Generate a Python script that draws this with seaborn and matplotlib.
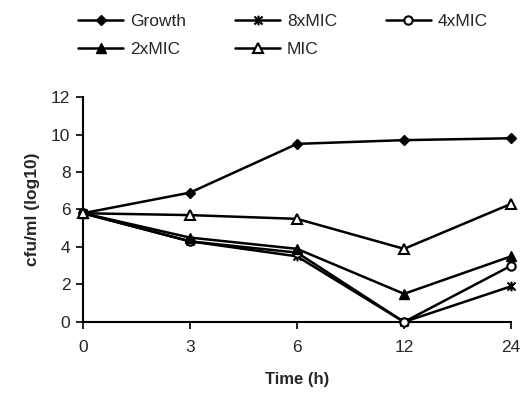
import numpy as np
import pandas as pd
import matplotlib
matplotlib.use('Agg')
import matplotlib.pyplot as plt
from matplotlib.path import Path
import seaborn as sns

sns.set_style("white")
plt.rcParams['font.family'] = ['Liberation Sans', 'DejaVu Sans']

# データ
times = ["0", "3", "6", "12", "24"]
growth = [5.8, 6.9, 9.5, 9.7, 9.8]
mic8 = [5.8, 4.3, 3.5, 0.0, 1.9]
mic4 = [5.8, 4.3, 3.7, 0.0, 3.0]
mic2 = [5.8, 4.5, 3.9, 1.5, 3.5]
mic1 = [5.8, 5.7, 5.5, 3.9, 6.3]

series = {"Growth": growth, "8xMIC": mic8, "4xMIC": mic4, "2xMIC": mic2, "MIC": mic1}

rows = []
for name, vals in series.items():
    for t, v in zip(times, vals):
        rows.append({"name": name, "time": t, "value": v})
df = pd.DataFrame(rows)
df["pos"] = df["time"].map({t: i for i, t in enumerate(times)})

# アスタリスク型マーカー
star = Path([(-1, -1), (1, 1), (-1, 1), (1, -1), (0, -1.2), (0, 1.2)],
            [Path.MOVETO, Path.LINETO, Path.MOVETO, Path.LINETO, Path.MOVETO, Path.LINETO])

styles = {
    "Growth": dict(marker="D", ms=5.5, mfc="k"),
    "8xMIC": dict(marker=star, ms=7, mfc="none", mew=1.5),
    "4xMIC": dict(marker="o", ms=6, mfc="white", mew=1.5),
    "2xMIC": dict(marker="^", ms=7, mfc="k"),
    "MIC": dict(marker="^", ms=7, mfc="white", mew=1.5),
}

fig = plt.figure(figsize=(5.22, 3.96), dpi=100)
ax = fig.add_axes([0.159, 0.187, 0.82, 0.568])

handles = {}
for name in series:
    sub = df[df["name"] == name]
    st = styles[name]
    sns.lineplot(data=sub, x="pos", y="value", ax=ax, color="k", lw=1.8,
                 marker=st["marker"], markersize=st["ms"], markerfacecolor=st["mfc"],
                 markeredgecolor="k", markeredgewidth=st.get("mew", 1), label=name,
                 clip_on=False, zorder=3)
    handles[name] = ax.get_lines()[-1]

ax.get_legend().remove()
ax.set_xlim(0, 4)
ax.set_ylim(0, 12)
ax.set_xticks(range(len(times)))
ax.set_xticklabels(times)
ax.set_yticks(np.arange(0, 13, 2))
ax.tick_params(axis="both", direction="out", length=5, width=1.2, color="k",
               labelsize=12.5, bottom=True, left=True, pad=4)
ax.tick_params(axis="x", pad=8)
for s in ["top", "right"]:
    ax.spines[s].set_visible(False)
for s in ["left", "bottom"]:
    ax.spines[s].set_color("k")
    ax.spines[s].set_linewidth(1.5)
ax.set_xlabel("Time (h)", fontsize=12, fontweight="bold", labelpad=12)
ax.set_ylabel("cfu/ml (log10)", fontsize=12.5, fontweight="bold", labelpad=8)

order = ["Growth", "2xMIC", "8xMIC", "MIC", "4xMIC"]
fig.legend([handles[n] for n in order], order, loc="upper left",
           bbox_to_anchor=(0.12, 1.005), ncol=3, frameon=False, fontsize=12.5,
           handlelength=2.6, columnspacing=2.8, handletextpad=0.4, labelspacing=0.75)

plt.savefig("out.png", dpi=100)
